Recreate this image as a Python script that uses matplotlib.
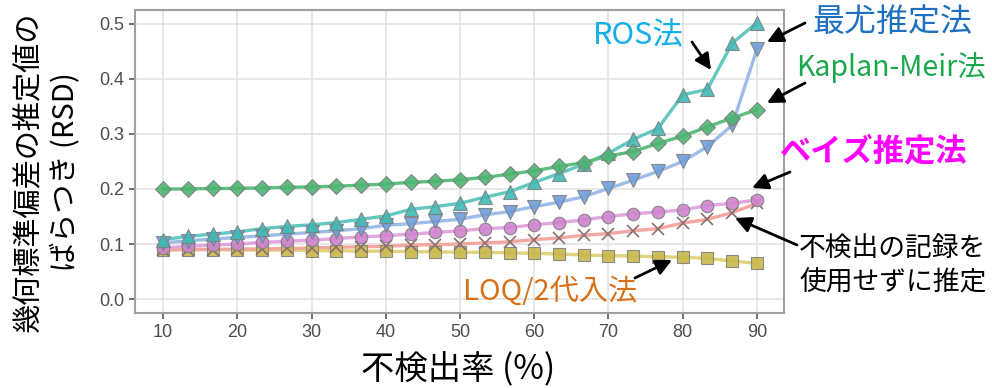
import matplotlib
matplotlib.use("Agg")
import matplotlib.pyplot as plt
import numpy as np

plt.rcParams['font.family'] = ['Noto Sans CJK JP', 'DejaVu Sans']

# non-detect rate (%)
nd_rate = [10, 13.33, 16.67, 20, 23.33, 26.67, 30, 33.33, 36.67, 40, 43.33, 46.67,
           50, 53.33, 56.67, 60, 63.33, 66.67, 70, 73.33, 76.67, 80, 83.33, 86.67, 90]

km = [0.200, 0.200, 0.201, 0.201, 0.202, 0.203, 0.204, 0.205, 0.207, 0.209, 0.212, 0.214,
      0.217, 0.221, 0.227, 0.233, 0.241, 0.248, 0.260, 0.268, 0.283, 0.296, 0.313, 0.329, 0.344]
ros = [0.108, 0.114, 0.118, 0.122, 0.128, 0.132, 0.135, 0.139, 0.145, 0.151, 0.163, 0.168,
       0.174, 0.185, 0.195, 0.212, 0.228, 0.245, 0.265, 0.290, 0.310, 0.371, 0.381, 0.465, 0.502]
mle = [0.102, 0.106, 0.109, 0.112, 0.115, 0.118, 0.121, 0.124, 0.128, 0.134, 0.137, 0.141,
       0.145, 0.153, 0.159, 0.168, 0.176, 0.186, 0.201, 0.216, 0.232, 0.250, 0.277, 0.316, 0.454]
bayes = [0.093, 0.096, 0.098, 0.100, 0.103, 0.105, 0.107, 0.110, 0.113, 0.115, 0.118, 0.121,
         0.124, 0.128, 0.130, 0.135, 0.139, 0.144, 0.150, 0.155, 0.158, 0.162, 0.170, 0.174, 0.180]
no_nd = [0.089, 0.090, 0.090, 0.091, 0.091, 0.092, 0.093, 0.094, 0.095, 0.096, 0.098, 0.099,
         0.100, 0.102, 0.104, 0.108, 0.111, 0.116, 0.119, 0.124, 0.128, 0.138, 0.145, 0.157, 0.174]
loq2 = [0.090, 0.090, 0.090, 0.089, 0.089, 0.089, 0.088, 0.088, 0.087, 0.087, 0.086, 0.086,
        0.085, 0.085, 0.084, 0.083, 0.082, 0.080, 0.079, 0.078, 0.077, 0.076, 0.074, 0.069, 0.065]

fig = plt.figure(figsize=(9.92, 3.88), dpi=100)
ax = fig.add_axes([0.136, 0.193, 0.654, 0.781])

# (values, marker, face colour, line colour, marker size)
series = [
    (loq2, 's', '#c9b84a', '#e2d47c', 8),
    (no_nd, 'x', '#8a7070', '#f4a7a0', 9),
    (bayes, 'o', '#d184d0', '#e4a6e0', 9),
    (mle, 'v', '#6e9fdc', '#9ebce8', 10),
    (ros, '^', '#3fbab5', '#62c8c0', 10),
    (km, 'D', '#4cb572', '#5cbf7c', 8),
]
for vals, mk, fc, lc, ms in series:
    ax.plot(nd_rate, vals, color=lc, lw=2.4, zorder=2)
    if mk == 'x':
        ax.plot(nd_rate, vals, linestyle='None', marker=mk, ms=ms, mew=1.2,
                color=fc, zorder=3)
    else:
        ax.plot(nd_rate, vals, linestyle='None', marker=mk, ms=ms, mfc=fc,
                mec='#808080', mew=0.8, alpha=0.9, zorder=3)

ax.set_xlim(6.2, 93.6)
ax.set_ylim(-0.0255, 0.525)
ax.set_xticks([10, 20, 30, 40, 50, 60, 70, 80, 90])
ax.set_yticks([0.0, 0.1, 0.2, 0.3, 0.4, 0.5])
ax.set_yticklabels(['0.0', '0.1', '0.2', '0.3', '0.4', '0.5'])
ax.grid(True, color='#e3e3e3', lw=1.2)
ax.set_axisbelow(True)
for s in ax.spines.values():
    s.set_color('#a0a0a0')
    s.set_linewidth(1.5)
ax.tick_params(colors='#555555', labelsize=13, length=4, width=1.2,
               labelcolor='#4d4d4d')
for lab in ax.get_xticklabels() + ax.get_yticklabels():
    lab.set_family(['Liberation Sans', 'DejaVu Sans'])

fig.text(0.029, 0.557, '幾何標準偏差の推定値の', rotation=90, fontsize=21,
         ha='center', va='center')
fig.text(0.066, 0.557, 'ばらつき (RSD)', rotation=90, fontsize=21,
         ha='center', va='center')
fig.text(0.462, 0.046, '不検出率 (%)', fontsize=24, ha='center', va='center')

arrow = dict(arrowstyle='-|>', mutation_scale=24, lw=2, color='black',
             shrinkA=0, shrinkB=0)


def px(x, y):
    return x / 992, 1 - y / 388


def note(text, text_px, color, size, weight='normal', ha='left'):
    fig.text(*px(*text_px), text, color=color, fontsize=size, fontweight=weight,
             ha=ha, va='center')


def pointer(head_px, tail_px):
    fig.add_artist(matplotlib.patches.FancyArrowPatch(
        px(*tail_px), px(*head_px), transform=fig.transFigure, **arrow))


note('ROS法', (638, 36), '#12aee8', 22, ha='center')
pointer((711, 70), (692, 42))
note('最尤推定法', (812, 22), '#1d70c0', 23)
pointer((767, 42), (805, 23))
note('Kaplan-Meir法', (796, 68), '#19a84c', 20.5)
pointer((767, 103), (805, 83))
note('ベイズ推定法', (780, 152), '#ff00ff', 22.5, weight='bold')
pointer((752, 188), (790, 172))
# the reference crops this note at the right edge; shrunk a little so it fits
note('不検出の記録を', (799, 249), 'black', 19.3)
note('使用せずに推定', (799, 282), 'black', 19.3)
pointer((735, 218), (797, 245))
note('LOQ/2代入法', (550, 292), '#d8711c', 21, ha='center')
pointer((672, 260), (635, 278))

fig.savefig('out.png', dpi=100)
